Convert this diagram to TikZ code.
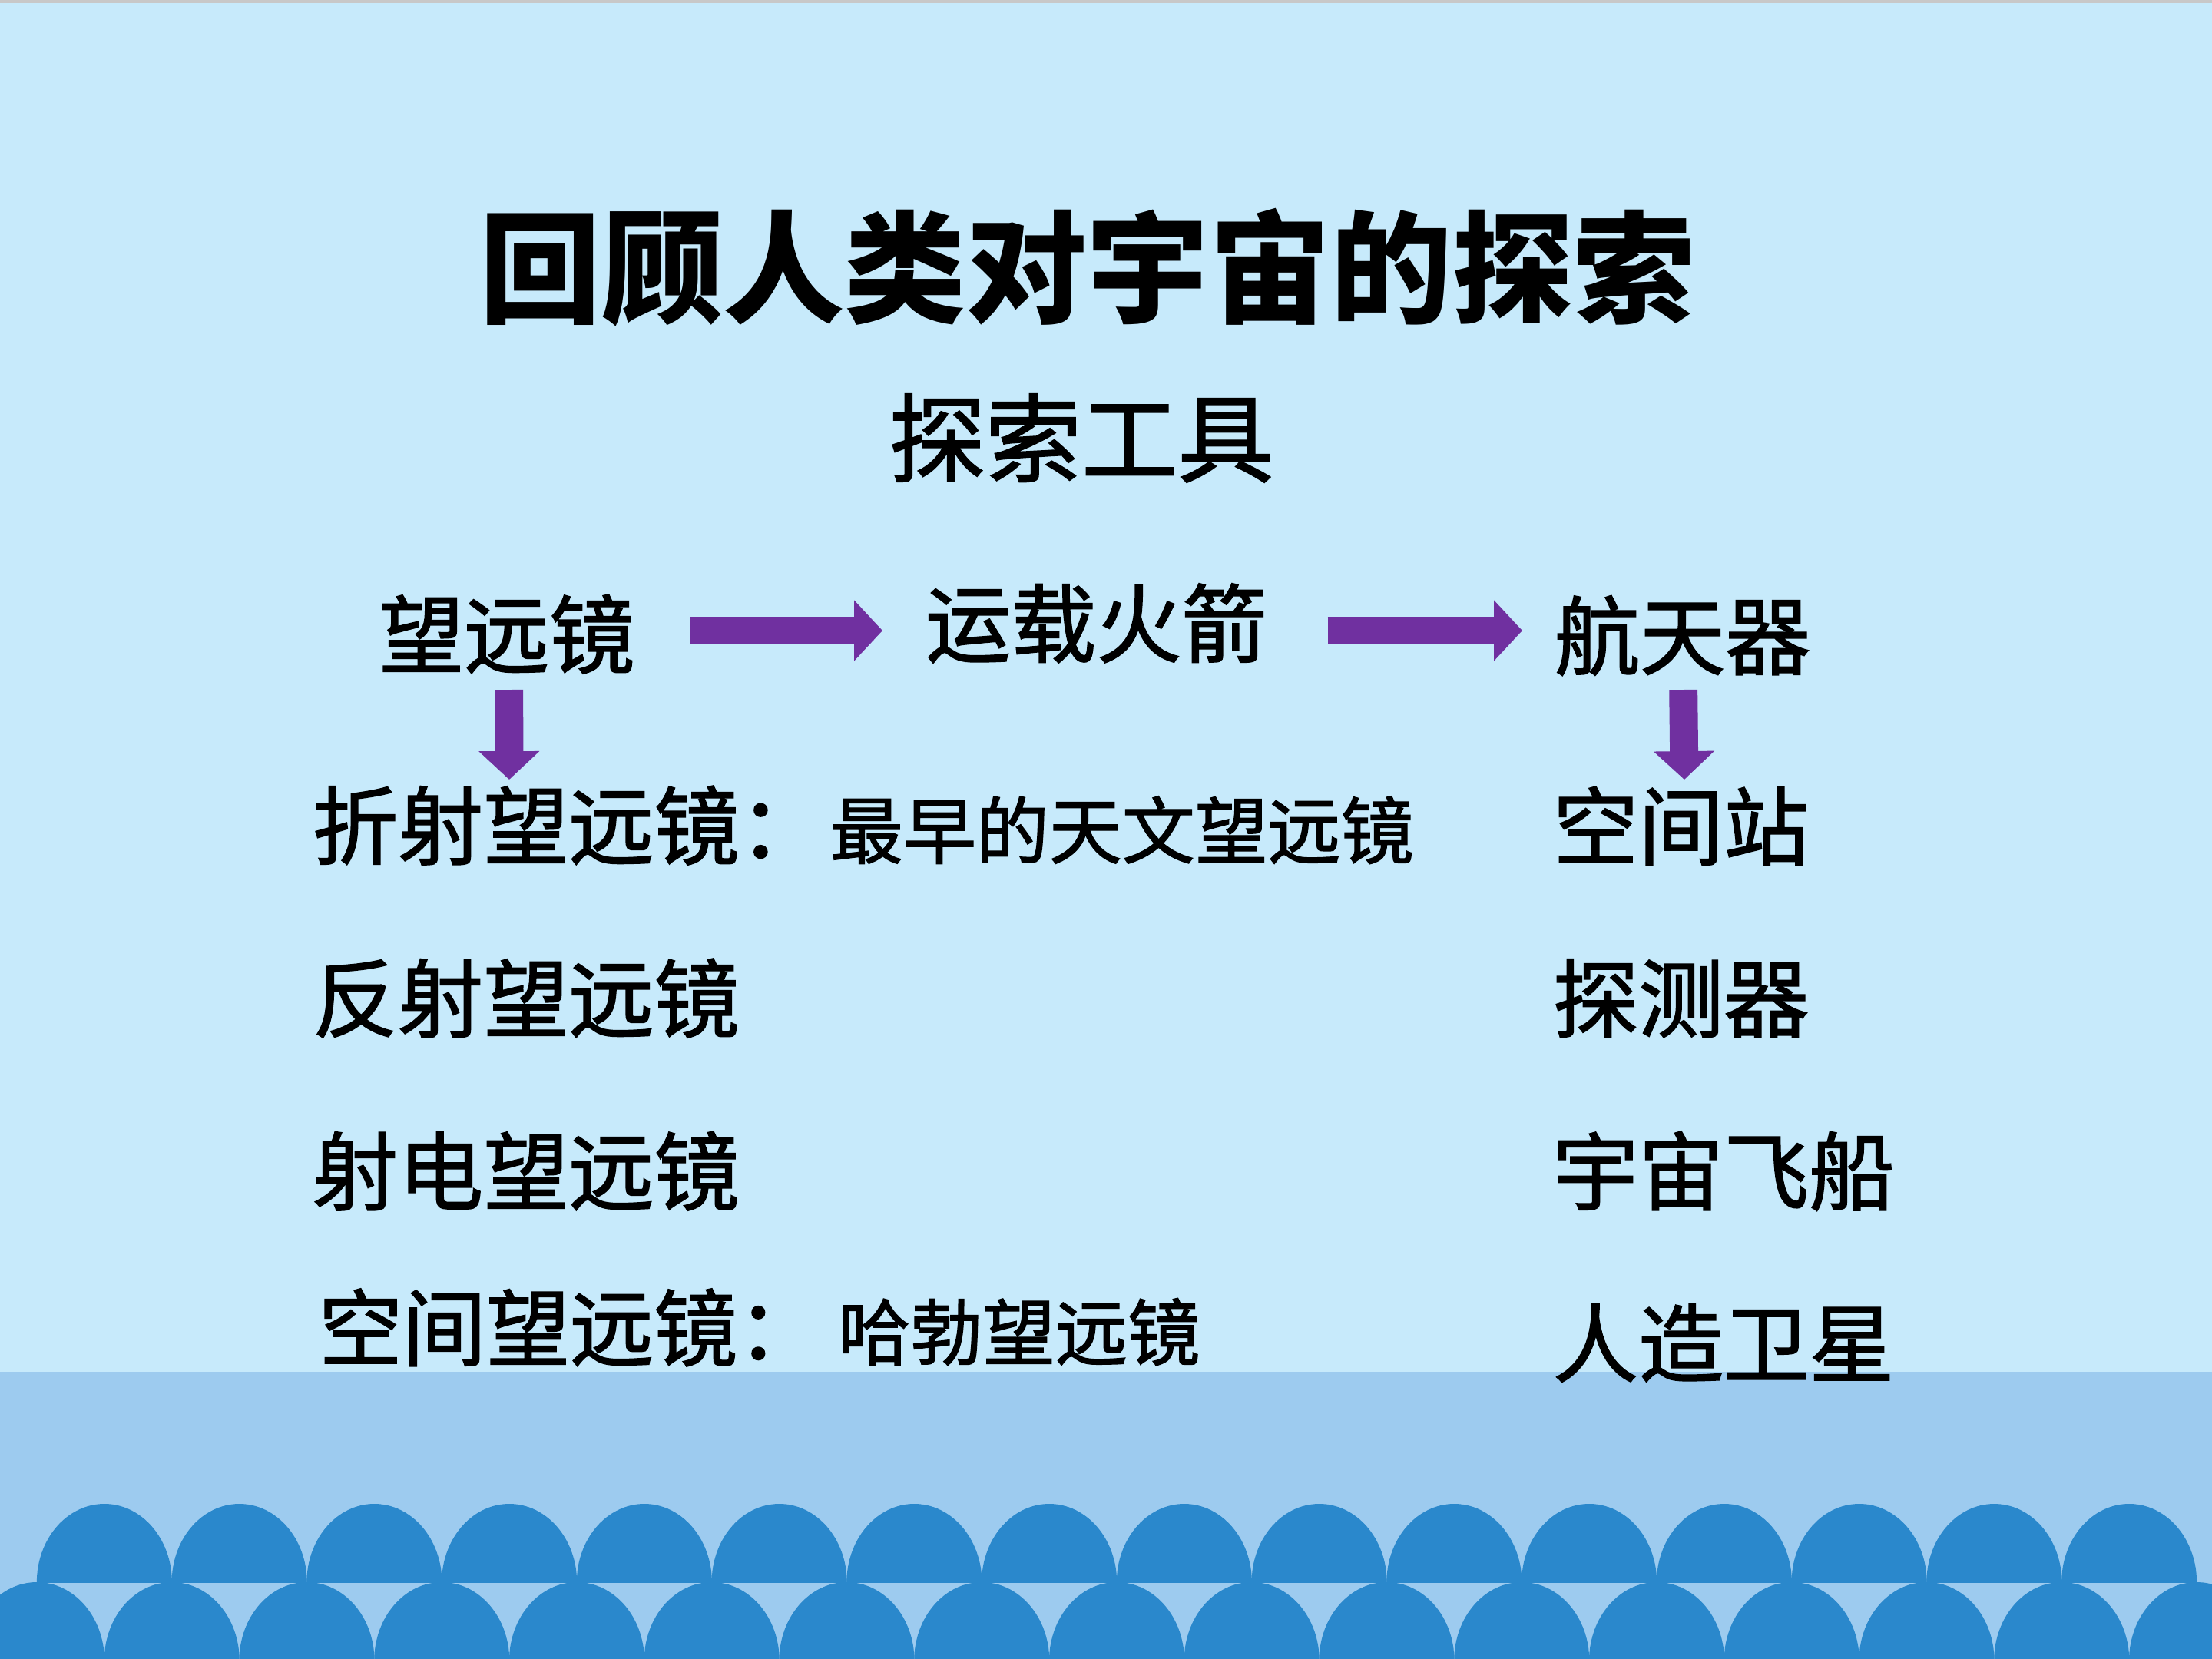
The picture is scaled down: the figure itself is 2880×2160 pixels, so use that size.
\documentclass[tikz,border=0pt]{standalone}
\usepackage{fontspec}
\newfontfamily\cjk{Noto Sans CJK SC}
\newfontfamily\cjkbody[FakeBold=1.5]{Noto Sans CJK SC}
\usetikzlibrary{arrows.meta,calc}
\definecolor{skyA}{HTML}{C7EAFB}
\definecolor{skyB}{HTML}{9DCBEF}
\definecolor{wave}{HTML}{2A88CC}
\definecolor{arrowpurple}{HTML}{7030A0}
\definecolor{topgray}{HTML}{C8C8C8}
\tikzset{
  txt/.style={inner sep=0pt, outer sep=0pt, anchor=base west, text=black},
  bigtxt/.style={txt, font=\cjkbody\fontsize{31.6pt}{31.6pt}\selectfont},
  smalltxt/.style={txt, font=\cjkbody\fontsize{27pt}{27pt}\selectfont},
  blockarrow/.style={arrowpurple, draw=arrowpurple, fill=arrowpurple, line width=10.5pt,
    -{Triangle[width=21.9pt,length=10.5pt]}}
}
\begin{document}
\begin{tikzpicture}[x=0.01cm,y=-0.01cm]
\useasboundingbox (0,0) rectangle (2880,2160);
% background
\fill[skyA] (0,0) rectangle (2880,2160);
\fill[topgray] (0,0) rectangle (2880,4);
\fill[skyB] (0,1786) rectangle (2880,2160);
% waves, lower row
\begin{scope}
  \clip (0,2060) rectangle (2880,2160);
  \foreach \k in {0,...,16}
    \fill[wave] ({48+175.75*\k},2162) ellipse [x radius=88, y radius=102];
\end{scope}
% waves, upper row
\begin{scope}
  \clip (0,1900) rectangle (2880,2060);
  \foreach \k in {0,...,15}
    \fill[wave] ({135.9+175.75*\k},2060) ellipse [x radius=88, y radius=102];
\end{scope}
% title
\node[inner sep=0pt, anchor=base, font=\cjk\bfseries\fontsize{45pt}{45pt}\selectfont] (title) at (1416,408) {回顾人类对宇宙的探索};
\node[inner sep=0pt, anchor=base, font=\cjkbody\fontsize{35.6pt}{35.6pt}\selectfont] (tools) at (1408,618) {探索工具};
% row of main nodes
\node[bigtxt] (tele) at (493,868) {望远镜};
\node[bigtxt] (rocket) at (1205,854) {运载火箭};
\node[bigtxt] (craft) at (2024,870) {航天器};
% left column
\node[bigtxt] (refr) at (407,1117) {折射望远镜：};
\node[smalltxt] (refrnote) at (1081,1117) {最早的天文望远镜};
\node[bigtxt, font=\cjkbody\fontsize{31pt}{31pt}\selectfont] (space) at (415,1770) {空间望远镜：};
\node[smalltxt, font=\cjkbody\fontsize{26.8pt}{26.8pt}\selectfont] (hubble) at (1091,1770) {哈勃望远镜};
\node[bigtxt] (refl) at (407,1342) {反射望远镜};
\node[bigtxt] (radio) at (407,1567) {射电望远镜};
% right column
\node[bigtxt] (station) at (2022,1118) {空间站};
\node[bigtxt] (probe) at (2022,1342) {探测器};
\node[bigtxt] (ship) at (2022,1567) {宇宙飞船};
\node[bigtxt] (sat) at (2022,1791) {人造卫星};
% arrows
\draw[blockarrow] ($(tele.base east)+(72,-47)$) -- ($(rocket.base west)+(-56,-33)$);
\draw[blockarrow] ($(rocket.base east)+(79,-33)$) -- ($(craft.base west)+(-42,-49)$);
\draw[blockarrow] ($(tele.base)+(3,30)$) -- ($(refr.base west)+(256,-102)$);
\draw[blockarrow] ($(craft.base)+(1,28)$) -- ($(station.base west)+(171,-103)$);
\end{tikzpicture}
\end{document}
